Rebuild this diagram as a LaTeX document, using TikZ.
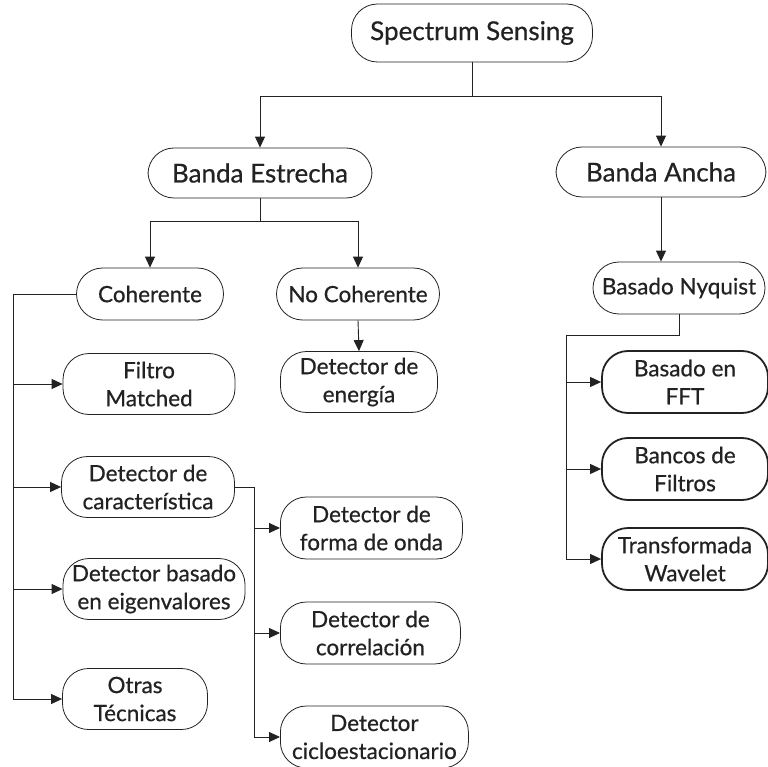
\documentclass[tikz,border=0pt]{standalone}
\usepackage{fontspec}
\setmainfont{Lato}[FakeBold=0.6]
\usetikzlibrary{arrows.meta}

\definecolor{tinta}{RGB}{34,34,34}

\tikzset{
  caja/.style={draw=tinta, line width=0.8pt, rounded corners=26pt, align=center,
    inner sep=1pt, text=tinta, font=\fontsize{22.5}{28}\selectfont},
  cajag/.style={caja, font=\fontsize{26}{30}\selectfont},
  gruesa/.style={caja, line width=1.8pt},
  linea/.style={draw=tinta, line width=0.9pt},
  flecha/.style={linea, -{Triangle[length=11pt,width=10pt]}}
}

\begin{document}
\begin{tikzpicture}[x=1pt, y=-1pt]
 \useasboundingbox (0,0) rectangle (768,767);

 % top levels
 \node[cajag, minimum width=241, minimum height=58] (ss) at (472,33) {Spectrum Sensing};
 \node[cajag, minimum width=224, minimum height=50] (be) at (260,173) {Banda Estrecha};
 \node[cajag, minimum width=210, minimum height=50] (ba) at (661,172) {Banda Ancha};

 \node[caja, minimum width=147, minimum height=52] (coh) at (150,294) {Coherente};
 \node[caja, minimum width=163, minimum height=52] (nocoh) at (358,294) {No Coherente};
 \node[caja, minimum width=157, minimum height=61] (ener) at (359,382) {Detector de\\energía};
 \node[caja, minimum width=172, minimum height=52] (nyq) at (679,288) {Basado Nyquist};

 % coherent branch
 \foreach \nom/\x/\y/\w/\txt in {fil/149/384/172/{Filtro\\Matched},
                                 car/148/487/173/{Detector de\\característica},
                                 eig/154/589/182/{Detector basado\\en eigenvalores},
                                 otr/135/699/145/{Otras\\Técnicas}} {
   \node[caja, minimum width=\w, minimum height=61] (\nom) at (\x,\y) {\txt};
 }

 \foreach \nom/\y/\w/\txt in {onda/528/182/{Detector de\\forma de onda},
                              corr/633/180/{Detector de\\correlación},
                              ciclo/737/188/{Detector\\cicloestacionario}} {
   \node[caja, minimum width=\w, minimum height=62, anchor=west] (\nom) at (280,\y) {\txt};
 }

 % wideband branch
 \foreach \nom/\y/\txt in {fft/382/{Basado en\\FFT}, ban/469/{Bancos de\\Filtros},
                           wav/559/{Transformada\\Wavelet}} {
   \node[gruesa, minimum width=166, minimum height=62] (\nom) at (685,\y) {\txt};
 }

 % lines
 \draw[linea] (ss.south) -- ++(0,34) coordinate (r1);
 \foreach \dest in {be, ba}
   \draw[flecha] (r1) -| (\dest.north);

 \draw[linea] (be.south) -- ++(0,23) coordinate (r2);
 \foreach \dest in {coh, nocoh}
   \draw[flecha] (r2) -| (\dest.north);

 \draw[flecha] (nocoh.south) -- (ener.north);
 \draw[flecha] (ba.south) -- (ba.south |- nyq.north);

 \draw[linea] (coh.west) -- ++(-63,0) coordinate (r3);
 \foreach \dest in {fil, car, eig, otr}
   \draw[flecha] (r3) |- (\dest.west);

 \draw[linea] (car.east) -- ++(20,0) coordinate (r4);
 \foreach \dest in {onda, corr, ciclo}
   \draw[flecha] (r4) |- (\dest.west);

 \coordinate (r5) at (566,335);
 \draw[linea] (nyq.south) |- (r5);
 \foreach \dest in {fft, ban, wav}
   \draw[flecha] (r5) |- (\dest.west);

\end{tikzpicture}
\end{document}
